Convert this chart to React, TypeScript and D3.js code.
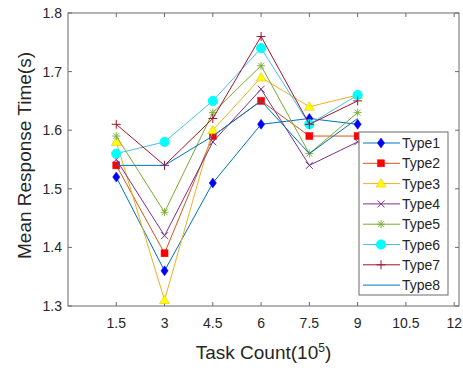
import React from 'react';
import * as d3 from 'd3';

const taskCounts = [1.5, 3, 4.5, 6, 7.5, 9];
const xTicks = [1.5, 3, 4.5, 6, 7.5, 9, 10.5, 12];
const yTicks = [1.3, 1.4, 1.5, 1.6, 1.7, 1.8];

const type1 = [1.52, 1.36, 1.51, 1.61, 1.62, 1.61];
const type2 = [1.54, 1.39, 1.59, 1.65, 1.59, 1.59];
const type3 = [1.58, 1.31, 1.6, 1.69, 1.64, 1.66];
const type4 = [1.55, 1.42, 1.58, 1.67, 1.54, 1.58];
const type5 = [1.59, 1.46, 1.63, 1.71, 1.56, 1.63];
const type6 = [1.56, 1.58, 1.65, 1.74, 1.61, 1.66];
const type7 = [1.61, 1.54, 1.62, 1.76, 1.61, 1.65];
const type8 = [1.54, 1.54, 1.59, 1.65, 1.56, 1.62];

const series = [
  { name: 'Type1', values: type1, line: '#0072BD', marker: 'diamond', fill: '#0000FF' },
  { name: 'Type2', values: type2, line: '#D95319', marker: 'square', fill: '#FF0000' },
  { name: 'Type3', values: type3, line: '#EDB120', marker: 'triangle', fill: '#FFFF00' },
  { name: 'Type4', values: type4, line: '#7E2F8E', marker: 'x', fill: '#7E2F8E' },
  { name: 'Type5', values: type5, line: '#77AC30', marker: 'star', fill: '#77AC30' },
  { name: 'Type6', values: type6, line: '#4DBEEE', marker: 'circle', fill: '#00FFFF' },
  { name: 'Type7', values: type7, line: '#A2142F', marker: 'plus', fill: '#A2142F' },
  { name: 'Type8', values: type8, line: '#0072BD', marker: 'none', fill: 'none' },
];

const W = 463;
const H = 368;
const m = { left: 68, right: 4, top: 13, bottom: 62 };
const font = 'Liberation Sans, Arial, sans-serif';
const textColor = '#262626';

const Marker = ({ kind, x, y, fill }) => {
  switch (kind) {
    case 'diamond':
      return <path d={`M${x},${y - 5}L${x + 3.6},${y}L${x},${y + 5}L${x - 3.6},${y}Z`} fill={fill} stroke={fill} strokeWidth={0.5} />;
    case 'square':
      return <rect x={x - 3.5} y={y - 3.5} width={7} height={7} fill={fill} stroke={fill} strokeWidth={0.5} />;
    case 'triangle':
      return <path d={`M${x},${y - 5}L${x + 5},${y + 3.5}L${x - 5},${y + 3.5}Z`} fill={fill} stroke="#EDB120" strokeWidth={0.5} />;
    case 'circle':
      return <circle cx={x} cy={y} r={4.6} fill={fill} stroke={fill} />;
    case 'x':
      return <path d={`M${x - 3.5},${y - 3.5}L${x + 3.5},${y + 3.5}M${x - 3.5},${y + 3.5}L${x + 3.5},${y - 3.5}`} stroke={fill} strokeWidth={1} fill="none" />;
    case 'plus':
      return <path d={`M${x - 4.5},${y}L${x + 4.5},${y}M${x},${y - 4.5}L${x},${y + 4.5}`} stroke={fill} strokeWidth={1} fill="none" />;
    case 'star':
      return (
        <path
          d={`M${x - 4},${y}L${x + 4},${y}M${x},${y - 4}L${x},${y + 4}M${x - 3},${y - 3}L${x + 3},${y + 3}M${x - 3},${y + 3}L${x + 3},${y - 3}`}
          stroke={fill}
          strokeWidth={0.9}
          fill="none"
        />
      );
    default:
      return null;
  }
};

const App = () => {
  const x = d3.scaleLinear().domain([0, 12.15]).range([m.left, W - m.right]);
  const y = d3.scaleLinear().domain([1.3, 1.8]).range([H - m.bottom, m.top]);
  const [x0, x1] = x.range();
  const [y0, y1] = y.range();

  const line = d3
    .line<number>()
    .x((_, i) => x(taskCounts[i]))
    .y((d) => y(d));

  // legend
  const lg = { x: 359, y: 132, w: 89, h: 163 };
  const rowH = 20.3;

  return (
    <svg width={W} height={H} style={{ position: 'absolute', left: 0, top: 0, background: '#fff' }}>
      <rect x={0} y={0} width={W} height={H} fill="#fff" />
      {/* axes box */}
      <rect x={x0} y={y1} width={x1 - x0} height={y0 - y1} fill="none" stroke="#6b6b6b" strokeWidth={1} />
      {xTicks.map((t) => (
        <g key={'xt' + t}>
          <line x1={x(t)} x2={x(t)} y1={y0} y2={y0 - 4} stroke="#6b6b6b" />
          <line x1={x(t)} x2={x(t)} y1={y1} y2={y1 + 4} stroke="#6b6b6b" />
          <text x={x(t)} y={y0 + 22} textAnchor="middle" fontSize={14} fontFamily={font} fill={textColor}>
            {t}
          </text>
        </g>
      ))}
      {yTicks.map((t) => (
        <g key={'yt' + t}>
          <line x1={x0} x2={x0 + 4} y1={y(t)} y2={y(t)} stroke="#6b6b6b" />
          <line x1={x1} x2={x1 - 4} y1={y(t)} y2={y(t)} stroke="#6b6b6b" />
          <text x={x0 - 6} y={y(t) + 5} textAnchor="end" fontSize={14} fontFamily={font} fill={textColor}>
            {t.toFixed(1)}
          </text>
        </g>
      ))}

      {/* series */}
      {series.map((s) => (
        <g key={s.name}>
          <path d={line(s.values) || ''} fill="none" stroke={s.line} strokeWidth={1} />
          {s.values.map((v, i) => (
            <Marker key={i} kind={s.marker} x={x(taskCounts[i])} y={y(v)} fill={s.fill} />
          ))}
        </g>
      ))}

      {/* axis labels */}
      <text x={(x0 + x1) / 2} y={359} textAnchor="middle" fontSize={19} fontFamily={font} fill={textColor}>
        Task Count(10
        <tspan dy={-7} fontSize={12}>5</tspan>
        <tspan dy={7}>)</tspan>
      </text>
      <text
        transform={`translate(31,155.5) rotate(-90)`}
        textAnchor="middle"
        fontSize={19}
        fontFamily={font}
        fill={textColor}
      >
        Mean Response Time(s)
      </text>

      {/* legend */}
      <rect x={lg.x} y={lg.y} width={lg.w} height={lg.h} fill="#fff" stroke="#6b6b6b" strokeWidth={1} />
      {series.map((s, i) => {
        const ry = lg.y + 11 + i * rowH;
        return (
          <g key={'lg' + s.name}>
            <line x1={lg.x + 4} x2={lg.x + 41} y1={ry} y2={ry} stroke={s.line} strokeWidth={1} />
            <Marker kind={s.marker} x={lg.x + 22} y={ry} fill={s.fill} />
            <text x={lg.x + 43} y={ry + 5} fontSize={14} fontFamily={font} fill={textColor}>
              {s.name}
            </text>
          </g>
        );
      })}
    </svg>
  );
};

export default App;
